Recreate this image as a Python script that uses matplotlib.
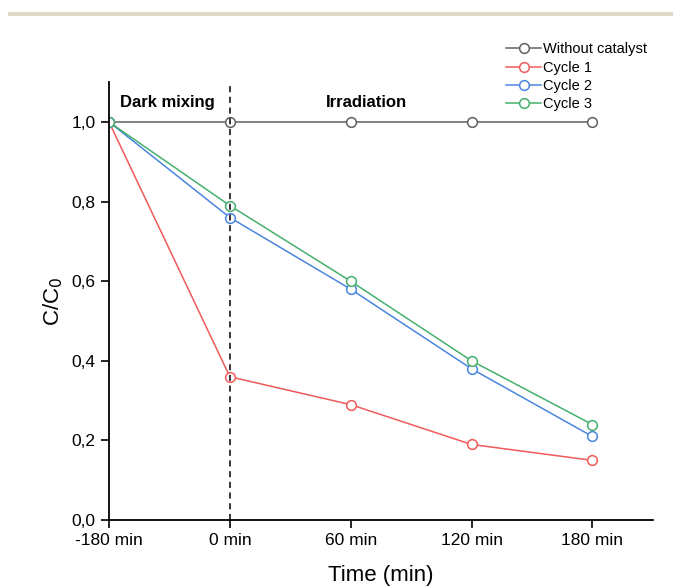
import numpy as np
import matplotlib.pyplot as plt
from matplotlib.ticker import FixedLocator, FuncFormatter

plt.rcParams['font.family'] = ['Liberation Sans', 'DejaVu Sans']

# Sampling times (categorical positions on the x axis)
time_labels = ['-180 min', '0 min', '60 min', '120 min', '180 min']

# C/C0 for each run
without_catalyst = [1.0, 1.0, 1.0, 1.0, 1.0]
cycle_1 = [1.0, 0.36, 0.29, 0.19, 0.15]
cycle_2 = [1.0, 0.76, 0.58, 0.38, 0.21]
cycle_3 = [1.0, 0.79, 0.60, 0.40, 0.24]

series = [
    ('Without catalyst', without_catalyst, '#606060'),
    ('Cycle 1', cycle_1, '#f05a5a'),
    ('Cycle 2', cycle_2, '#4a85e0'),
    ('Cycle 3', cycle_3, '#45b06e'),
]

fig = plt.figure(figsize=(6.73, 5.87), dpi=100)
# thin beige band along the top
fig.add_artist(plt.Rectangle((0.012, 0.972), 0.988, 0.008, transform=fig.transFigure,
                             color='#e0d9c6', lw=0))
ax = fig.add_axes([0.162, 0.114, 0.808, 0.746])

x = np.arange(len(time_labels))
for name, vals, col in series:
    ax.plot(x, vals, color=col, lw=1.1, marker='o', ms=7, mfc='white',
            mec=col, mew=1.1, label=name)

ax.axvline(1, ymin=0, ymax=1, color='black', ls=(0, (4, 3)), lw=1.1)

ax.set_xlim(0, 4.5)
ax.set_ylim(0, 1.1)
ax.xaxis.set_major_locator(FixedLocator(x))
ax.set_xticklabels(time_labels)
ax.yaxis.set_major_locator(FixedLocator([0, 0.2, 0.4, 0.6, 0.8, 1.0]))
ax.yaxis.set_major_formatter(FuncFormatter(lambda v, p: f'{v:.1f}'.replace('.', ',')))

for side in ['top', 'right']:
    ax.spines[side].set_visible(False)
for side in ['left', 'bottom']:
    ax.spines[side].set_linewidth(1.3)
ax.tick_params(labelsize=12.5, width=1.2, length=6, direction='out')

ax.set_xlabel('Time (min)', fontsize=16, labelpad=12)
ax.set_ylabel('C/C$_0$', fontsize=16, labelpad=5)

ax.text(0.48, 1.048, 'Dark mixing', ha='center', va='center', fontsize=12, fontweight='bold')
ax.text(2.13, 1.048, 'Irradiation', ha='center', va='center', fontsize=12, fontweight='bold')

fig.legend(loc='upper left', bbox_to_anchor=(0.752, 0.928), frameon=False, fontsize=10.5,
           handlelength=2.4, handletextpad=0.15, labelspacing=0.3, borderaxespad=0,
           borderpad=0)

fig.savefig('out.png', dpi=100)
